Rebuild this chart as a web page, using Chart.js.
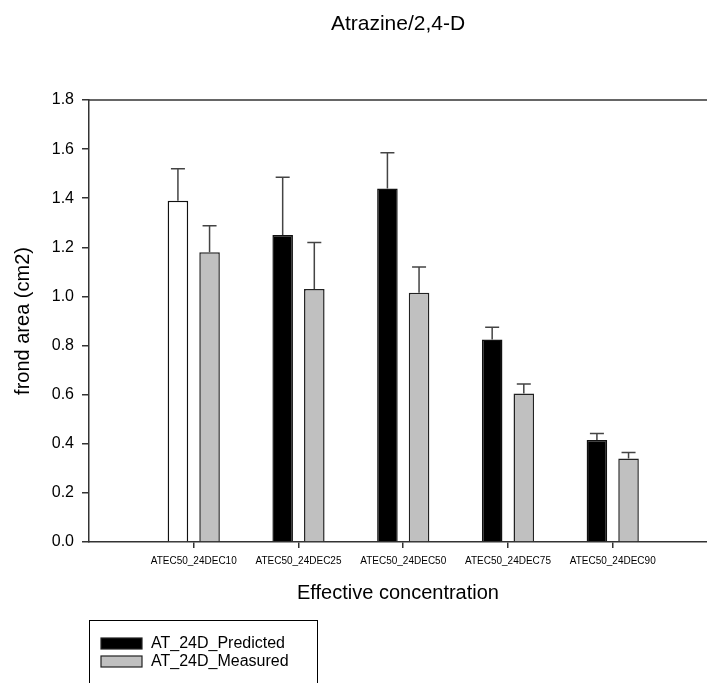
<!DOCTYPE html>
<html>
<head>
<meta charset="utf-8">
<title>Atrazine/2,4-D</title>
<script src="https://cdn.jsdelivr.net/npm/chart.js@4/dist/chart.umd.min.js"></script>
<style>
  html, body { margin: 0; padding: 0; background: #fff; }
  #wrap { width: 707px; height: 683px; position: relative; }
</style>
</head>
<body>
<div id="wrap"><canvas id="chart"></canvas></div>
<script>
// data
const categories = ['ATEC50_24DEC10', 'ATEC50_24DEC25', 'ATEC50_24DEC50', 'ATEC50_24DEC75', 'ATEC50_24DEC90'];
const categoryPos = [1, 2, 3, 4, 5];
const predicted = [1.39, 1.25, 1.44, 0.825, 0.415];
const predictedErr = [0.13, 0.235, 0.145, 0.05, 0.027];
const measured = [1.18, 1.03, 1.015, 0.605, 0.34];
const measuredErr = [0.108, 0.19, 0.105, 0.038, 0.024];
const yTicks = [0, 0.2, 0.4, 0.6, 0.8, 1.0, 1.2, 1.4, 1.6, 1.8];

const FONT = '"Liberation Sans", Arial, sans-serif';
const AXIS = '#333';

// first predicted bar is drawn hollow in the original
const predictedFill = predicted.map((v, i) => i === 0 ? '#ffffff' : '#000000');

// upward-only error bars + top frame line
const errorBars = {
    id: 'errorBars',
    afterDatasetsDraw(chart) {
        const ctx = chart.ctx;
        const y = chart.scales.y;
        const area = chart.chartArea;
        ctx.save();
        ctx.strokeStyle = '#444';
        ctx.lineWidth = 1.5;
        chart.data.datasets.forEach((ds, di) => {
            const meta = chart.getDatasetMeta(di);
            meta.data.forEach((bar, j) => {
                const top = y.getPixelForValue(ds.data[j].y + ds.errors[j]);
                ctx.beginPath();
                ctx.moveTo(bar.x, bar.y);
                ctx.lineTo(bar.x, top);
                ctx.moveTo(bar.x - 7, top);
                ctx.lineTo(bar.x + 7, top);
                ctx.stroke();
            });
        });
        // top frame
        ctx.strokeStyle = AXIS;
        ctx.beginPath();
        ctx.moveTo(area.left, area.top);
        ctx.lineTo(area.right, area.top);
        ctx.stroke();
        ctx.restore();
    }
};

// boxed legend under the x axis title
const boxLegend = {
    id: 'boxLegend',
    afterDraw(chart) {
        const ctx = chart.ctx;
        const left = chart.chartArea.left;
        const top = 620;
        ctx.save();
        ctx.strokeStyle = '#000';
        ctx.lineWidth = 1;
        ctx.strokeRect(left + 0.5, top + 0.5, 228, 80);
        const swatches = ['#000000', '#c0c0c0'];
        ctx.font = '16px ' + FONT;
        ctx.textBaseline = 'middle';
        chart.data.datasets.forEach((ds, i) => {
            const sy = top + 18 + i * 18;
            ctx.fillStyle = swatches[i];
            ctx.fillRect(left + 12, sy, 41, 11);
            ctx.strokeStyle = '#222';
            ctx.lineWidth = 1.2;
            ctx.strokeRect(left + 12, sy, 41, 11);
            ctx.fillStyle = '#000';
            ctx.fillText(ds.label, left + 62, sy + 6);
        });
        ctx.restore();
    }
};

new Chart(document.getElementById('chart'), {
    type: 'bar',
    data: {
        datasets: [
            {
                label: 'AT_24D_Predicted',
                data: categoryPos.map((x, i) => ({ x, y: predicted[i] })),
                errors: predictedErr,
                backgroundColor: predictedFill,
                borderColor: '#111',
                borderWidth: 1.5,
                categoryPercentage: 0.604,
                barPercentage: 0.65
            },
            {
                label: 'AT_24D_Measured',
                data: categoryPos.map((x, i) => ({ x, y: measured[i] })),
                errors: measuredErr,
                backgroundColor: '#c0c0c0',
                borderColor: '#222',
                borderWidth: 1.5,
                categoryPercentage: 0.604,
                barPercentage: 0.65
            }
        ]
    },
    options: {
        responsive: true,
        maintainAspectRatio: false,
        animation: false,
        layout: { padding: 0 },
        plugins: {
            legend: { display: false },
            tooltip: { enabled: false },
            title: {
                display: true,
                text: 'Atrazine/2,4-D',
                fullSize: false,
                color: '#000',
                font: { family: FONT, size: 21, weight: 'normal' },
                padding: { top: 12, bottom: 62.8 }
            }
        },
        scales: {
            x: {
                type: 'linear',
                min: 0,
                max: 5.9,
                offset: false,
                afterBuildTicks: s => { s.ticks = categoryPos.map(v => ({ value: v })); },
                afterFit: s => { s.height = 141; },
                grid: { offset: false, drawOnChartArea: false, drawTicks: true, tickLength: 6, color: AXIS, lineWidth: 1.5 },
                border: { display: true, color: AXIS, width: 1.5 },
                ticks: {
                    color: '#000',
                    font: { family: FONT, size: 10 },
                    padding: 7,
                    maxRotation: 0,
                    autoSkip: false,
                    callback: v => categories[categoryPos.indexOf(v)] || ''
                },
                title: {
                    display: true,
                    text: 'Effective concentration',
                    color: '#000',
                    font: { family: FONT, size: 20 },
                    padding: { top: 0, bottom: 77.5 }
                }
            },
            y: {
                min: 0,
                max: 1.8,
                afterBuildTicks: s => { s.ticks = yTicks.map(v => ({ value: v })); },
                afterFit: s => { s.width = 89; },
                grid: { drawOnChartArea: false, drawTicks: true, tickLength: 7, color: AXIS, lineWidth: 1.5 },
                border: { display: true, color: AXIS, width: 1.5 },
                ticks: {
                    color: '#000',
                    font: { family: FONT, size: 16 },
                    padding: 8,
                    callback: v => Number(v).toFixed(1)
                },
                title: {
                    display: true,
                    text: 'frond area (cm2)',
                    color: '#000',
                    font: { family: FONT, size: 20 },
                    padding: { top: 11, bottom: 0 }
                }
            }
        }
    },
    plugins: [errorBars, boxLegend]
});
</script>
</body>
</html>
